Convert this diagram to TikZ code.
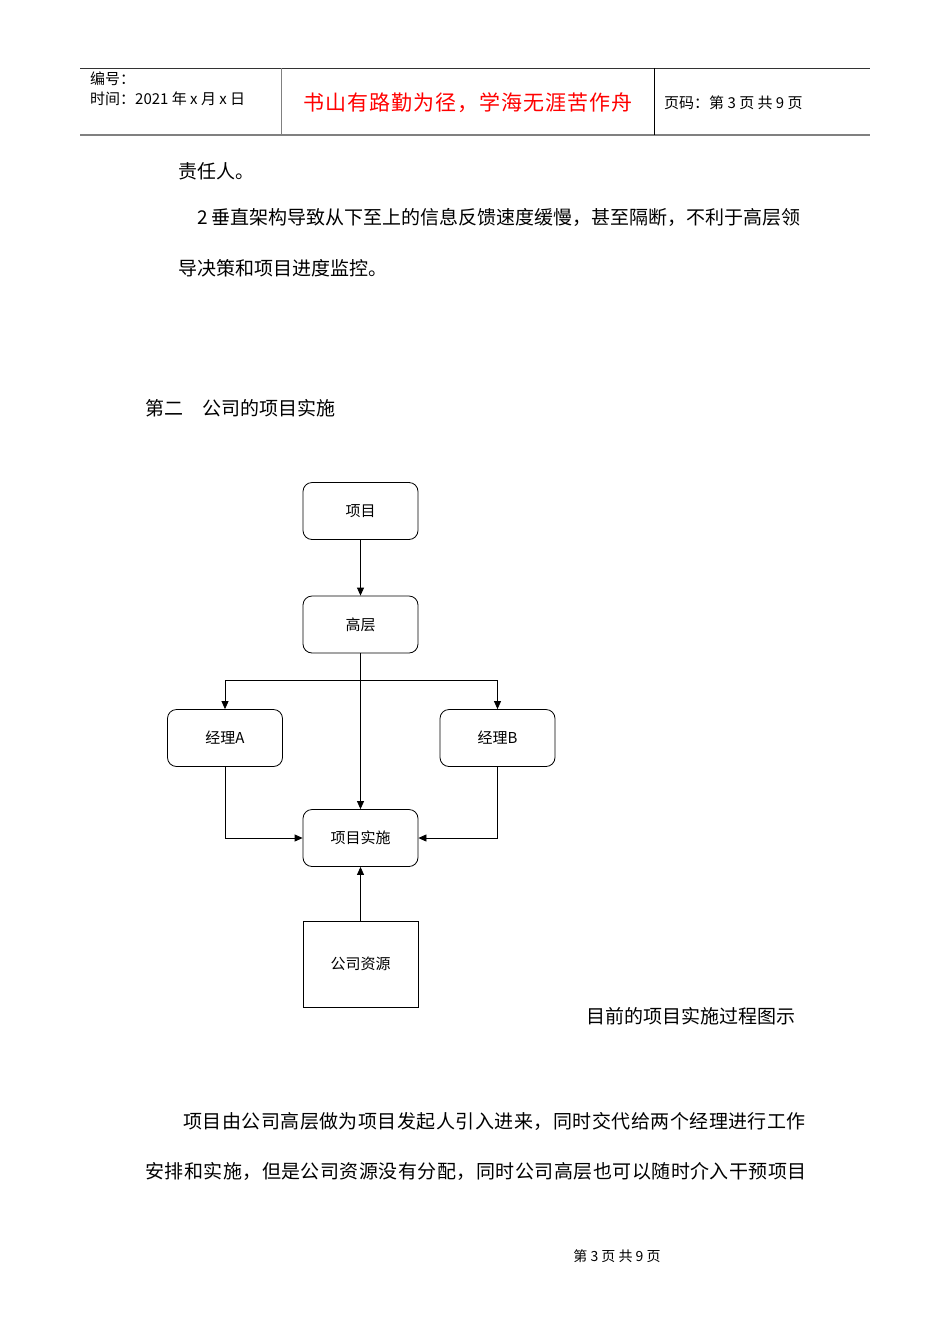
\documentclass[tikz,border=0pt]{standalone}
\usepackage{fontspec}
\setmainfont{Noto Sans CJK SC}
\usetikzlibrary{arrows.meta}
\begin{document}
\begin{tikzpicture}[x=1pt,y=-1pt,
  rbox/.style={draw,thick,rounded corners=9pt,minimum width=115pt,minimum height=57pt,font=\fontsize{15}{17}\selectfont},
  sbox/.style={draw,thick,minimum width=115pt,minimum height=86pt,font=\fontsize{15}{17}\selectfont},
  arr/.style={thick,-{Triangle[length=8pt,width=7pt]}},
  body/.style={anchor=west,inner sep=0,font=\fontsize{19}{22}\selectfont},
  hdr/.style={anchor=west,inner sep=0,font=\fontsize{15}{17}\selectfont}]
\useasboundingbox (0,0) rectangle (950,1344);
\fill[white] (0,0) rectangle (950,1344);
% header
\draw[thick,black!80] (80,68) -- (870,68);
\draw[line width=1.5pt,gray] (80,135) -- (870,135);
\draw[gray] (281,68) -- (281,135);
\draw (654,68) -- (654,135);
\node[hdr] (h1) at (90,79) {编号：};
\node[hdr] (h2) at (90,99) {时间：2021 年 x 月 x 日};
\node[inner sep=0,text=red,font=\fontsize{21}{24}\selectfont\addfontfeature{LetterSpace=5}] (h3) at (468,103) {书山有路勤为径，学海无涯苦作舟};
\node[hdr] (h4) at (664,103) {页码：第 3 页 共 9 页};
% body text
\node[body] (t1) at (178,171) {责任人。};
\node[body] (t2) at (197,217) {2 垂直架构导致从下至上的信息反馈速度缓慢，甚至隔断，不利于高层领};
\node[body] (t3) at (178,268) {导决策和项目进度监控。};
\node[body] (t4) at (145,408) {第二\quad 公司的项目实施};
\node[body] (cap) at (586,1016) {目前的项目实施过程图示};
\node[body,font=\fontsize{19}{22}\selectfont\addfontfeature{LetterSpace=2.5}] (p1) at (183,1121) {项目由公司高层做为项目发起人引入进来，同时交代给两个经理进行工作};
\node[body,font=\fontsize{19}{22}\selectfont\addfontfeature{LetterSpace=2.5}] (p2) at (145,1171) {安排和实施，但是公司资源没有分配，同时公司高层也可以随时介入干预项目};
\node[inner sep=0,font=\fontsize{14}{16}\selectfont] (ft) at (617,1256) {第 3 页 共 9 页};
% diagram
\node[rbox] (xm) at (360.5,511) {项目};
\node[rbox] (gc) at (360.5,624.5) {高层};
\node[rbox] (ja) at (225,738) {经理A};
\node[rbox] (jb) at (497.5,738) {经理B};
\node[rbox] (ss) at (360.5,838) {项目实施};
\node[sbox] (zy) at (360.5,964) {公司资源};
\coordinate (br) at (360.5,680);
\draw[arr] (xm) -- (gc);
\draw[arr] (gc) -- (ss);
\draw[arr] (br) -| (ja);
\draw[arr] (br) -| (jb);
\draw[arr] (ja) |- (ss);
\draw[arr] (jb) |- (ss);
\draw[arr] (zy) -- (ss);
\end{tikzpicture}
\end{document}
